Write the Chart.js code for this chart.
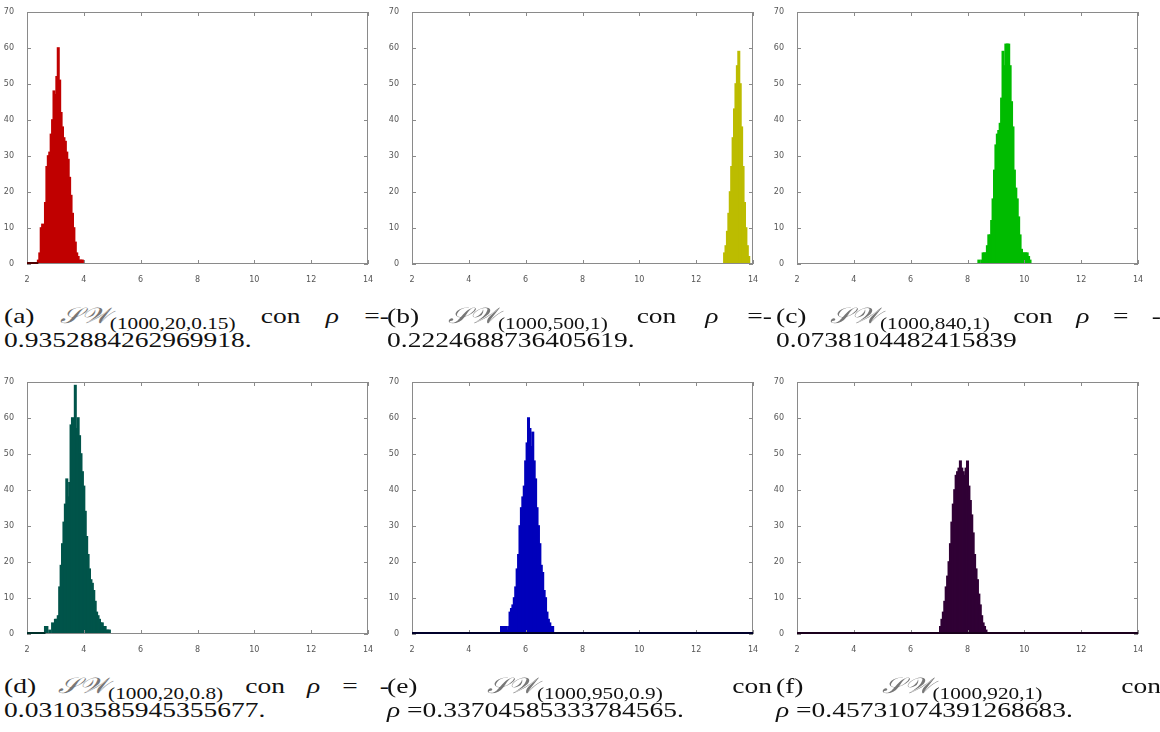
<!DOCTYPE html>
<html>
<head>
<meta charset="utf-8">
<script src="https://cdn.jsdelivr.net/npm/chart.js@4"></script>
<style>
  body { margin: 0; background: #fff; }
  #page { position: relative; width: 1160px; height: 732px; overflow: hidden; }
  .panel { position: absolute; width: 390px; height: 290px; }
  .cap {
    position: absolute; width: 308px;
    font-family: "Liberation Serif", "Times New Roman", serif;
    font-size: 22px; line-height: 23px; color: #111;
    transform: scaleX(1.25); transform-origin: left top;
    white-space: nowrap;
  }
  .cap .l1 { display: flex; justify-content: space-between; align-items: baseline; height: 24px; }
  .cap sub { font-size: 17px; vertical-align: -6px; line-height: 0; }
  .sw { font-style: italic; color: #777; font-weight: 300; }
  .rho { font-style: italic; }
</style>
</head>
<body>
<div id="page">
  <div class="panel" style="left:0;top:0"><canvas id="ha" width="390" height="290"></canvas></div>
  <div class="panel" style="left:385px;top:0"><canvas id="hb" width="390" height="290"></canvas></div>
  <div class="panel" style="left:770px;top:0"><canvas id="hc" width="390" height="290"></canvas></div>
  <div class="panel" style="left:0;top:370px"><canvas id="hd" width="390" height="290"></canvas></div>
  <div class="panel" style="left:385px;top:370px"><canvas id="he" width="390" height="290"></canvas></div>
  <div class="panel" style="left:770px;top:370px"><canvas id="hf" width="390" height="290"></canvas></div>

  <div class="cap" style="left:4px;top:304px">
    <div class="l1"><span>(a)</span><span><span class="sw">𝒮𝒲</span><sub>(1000,20,0.15)</sub></span><span>con</span><span class="rho">ρ</span><span>=-</span></div>
    <div>0.9352884262969918.</div>
  </div>
  <div class="cap" style="left:387px;top:304px">
    <div class="l1"><span>(b)</span><span><span class="sw">𝒮𝒲</span><sub>(1000,500,1)</sub></span><span>con</span><span class="rho">ρ</span><span>=-</span></div>
    <div>0.2224688736405619.</div>
  </div>
  <div class="cap" style="left:776px;top:304px">
    <div class="l1"><span>(c)</span><span><span class="sw">𝒮𝒲</span><sub>(1000,840,1)</sub></span><span>con</span><span class="rho">ρ</span><span>=</span><span>-</span></div>
    <div>0.0738104482415839</div>
  </div>
  <div class="cap" style="left:4px;top:674px">
    <div class="l1"><span>(d)</span><span><span class="sw">𝒮𝒲</span><sub>(1000,20,0.8)</sub></span><span>con</span><span class="rho">ρ</span><span>=</span><span>-</span></div>
    <div>0.03103585945355677.</div>
  </div>
  <div class="cap" style="left:387px;top:674px">
    <div class="l1"><span>(e)</span><span><span class="sw">𝒮𝒲</span><sub>(1000,950,0.9)</sub></span><span>con</span></div>
    <div><span class="rho">ρ</span> =0.33704585333784565.</div>
  </div>
  <div class="cap" style="left:776px;top:674px">
    <div class="l1"><span>(f)</span><span><span class="sw">𝒮𝒲</span><sub>(1000,920,1)</sub></span><span>con</span></div>
    <div><span class="rho">ρ</span> =0.45731074391268683.</div>
  </div>
</div>

<script>
// histogram bins: first bin centre and counts per bin (bin width 0.05)
const binWidth = 0.05;

const startA = 2.40;
const countsA = [1, 3, 10, 11, 8, 17, 27, 30, 31, 36, 40, 48, 47, 52, 60, 51, 42, 38, 35, 34,
  31, 29, 24, 19, 14, 10, 6, 3, 2, 1, 1, 1];

const startB = 13.00;
const countsB = [3, 5, 9, 14, 20, 27, 35, 43, 50, 55, 59, 50, 38, 27, 17, 10, 5, 2];

const startC = 8.40;
const countsC = [1, 0, 1, 3, 3, 3, 5, 8, 8, 12, 18, 26, 33, 36, 37, 39, 46, 59, 55, 61,
  61, 61, 55, 45, 38, 26, 21, 18, 13, 8, 4, 3, 3, 3, 3, 2, 1];

const startD = 2.65;
const countsD = [2, 2, 0, 1, 0, 3, 2, 4, 4, 5, 13, 19, 25, 31, 36, 43, 38, 42, 58, 60,
  58, 69, 57, 60, 55, 50, 45, 41, 34, 27, 22, 18, 15, 14, 12, 9, 6, 5, 4, 3,
  3, 2, 2, 1, 1, 1];

const startE = 5.15;
const countsE = [2, 2, 2, 2, 1, 2, 6, 7, 8, 10, 13, 18, 22, 30, 35, 38, 41, 48, 53, 60,
  57, 52, 56, 48, 43, 35, 30, 25, 19, 17, 12, 10, 6, 4, 3, 2, 2];

const startF = 7.05;
const countsF = [2, 4, 6, 9, 13, 16, 20, 25, 31, 36, 40, 44, 45, 46, 48, 46, 45, 44, 46, 48,
  41, 37, 33, 28, 22, 18, 15, 11, 8, 5, 3, 2, 1];

const xTicks = [2, 4, 6, 8, 10, 12, 14];
const yTicks = [0, 10, 20, 30, 40, 50, 60, 70];

// matlab-like box with inward tick marks on all four sides
const frame = {
  id: 'frame',
  afterDatasetsDraw(chart, args, opts) {
    const { ctx, chartArea: a, scales: { x, y } } = chart;
    ctx.save();
    ctx.strokeStyle = '#8a8a8a';
    ctx.lineWidth = 1;
    ctx.strokeRect(Math.round(a.left) + 0.5, Math.round(a.top) + 0.5,
      Math.round(a.width) - 1, Math.round(a.height) - 1);
    ctx.beginPath();
    for (const v of xTicks) {
      const px = Math.round(x.getPixelForValue(v)) + 0.5;
      ctx.moveTo(px, a.bottom); ctx.lineTo(px, a.bottom - 4);
      ctx.moveTo(px, a.top); ctx.lineTo(px, a.top + 4);
    }
    for (const v of yTicks) {
      const py = Math.round(y.getPixelForValue(v)) + 0.5;
      ctx.moveTo(a.left, py); ctx.lineTo(a.left + 4, py);
      ctx.moveTo(a.right, py); ctx.lineTo(a.right - 4, py);
    }
    ctx.stroke();
    // empty bins show up as a dark line on the baseline
    if (opts.base) {
      ctx.strokeStyle = opts.base.color;
      ctx.lineWidth = 2;
      ctx.beginPath();
      ctx.moveTo(x.getPixelForValue(opts.base.from), a.bottom - 1);
      ctx.lineTo(x.getPixelForValue(opts.base.to), a.bottom - 1);
      ctx.stroke();
    }
    ctx.restore();
  },
};

function histogram(id, start, counts, color, base) {
  const points = counts.map((c, i) => ({ x: start + i * binWidth, y: c }));
  const tickFont = { family: 'DejaVu Sans', size: 8 };
  return new Chart(document.getElementById(id), {
    type: 'bar',
    data: {
      datasets: [{
        data: points,
        backgroundColor: color,
        borderWidth: 0,
        inflateAmount: 0.8,
        barPercentage: 1,
        categoryPercentage: 1,
      }],
    },
    options: {
      responsive: false,
      animation: false,
      layout: { padding: { top: 12, right: 22, left: 0, bottom: 0 } },
      plugins: {
        legend: { display: false },
        tooltip: { enabled: false },
        frame: { base: base },
      },
      scales: {
        x: {
          type: 'linear',
          min: 2,
          max: 14,
          offset: false,
          grid: { display: false },
          border: { display: false },
          ticks: { stepSize: 2, font: tickFont, color: '#555', padding: 3, maxRotation: 0 },
          afterFit: (s) => { s.height = 26; },
        },
        y: {
          min: 0,
          max: 70,
          grid: { display: false },
          border: { display: false },
          ticks: { stepSize: 10, font: tickFont, color: '#555', padding: 5 },
          afterFit: (s) => { s.width = 27; },
        },
      },
    },
    plugins: [frame],
  });
}

histogram('ha', startA, countsA, '#c00000', { color: '#500000', from: 2, to: 2.4 });
histogram('hb', startB, countsB, '#bcbc00', null);
histogram('hc', startC, countsC, '#00bb00', null);
histogram('hd', startD, countsD, '#00544a', { color: '#00302a', from: 2, to: 2.65 });
histogram('he', startE, countsE, '#0000bb', { color: '#00002a', from: 2, to: 14 });
histogram('hf', startF, countsF, '#300035', { color: '#1a001c', from: 2, to: 14 });
</script>
</body>
</html>
